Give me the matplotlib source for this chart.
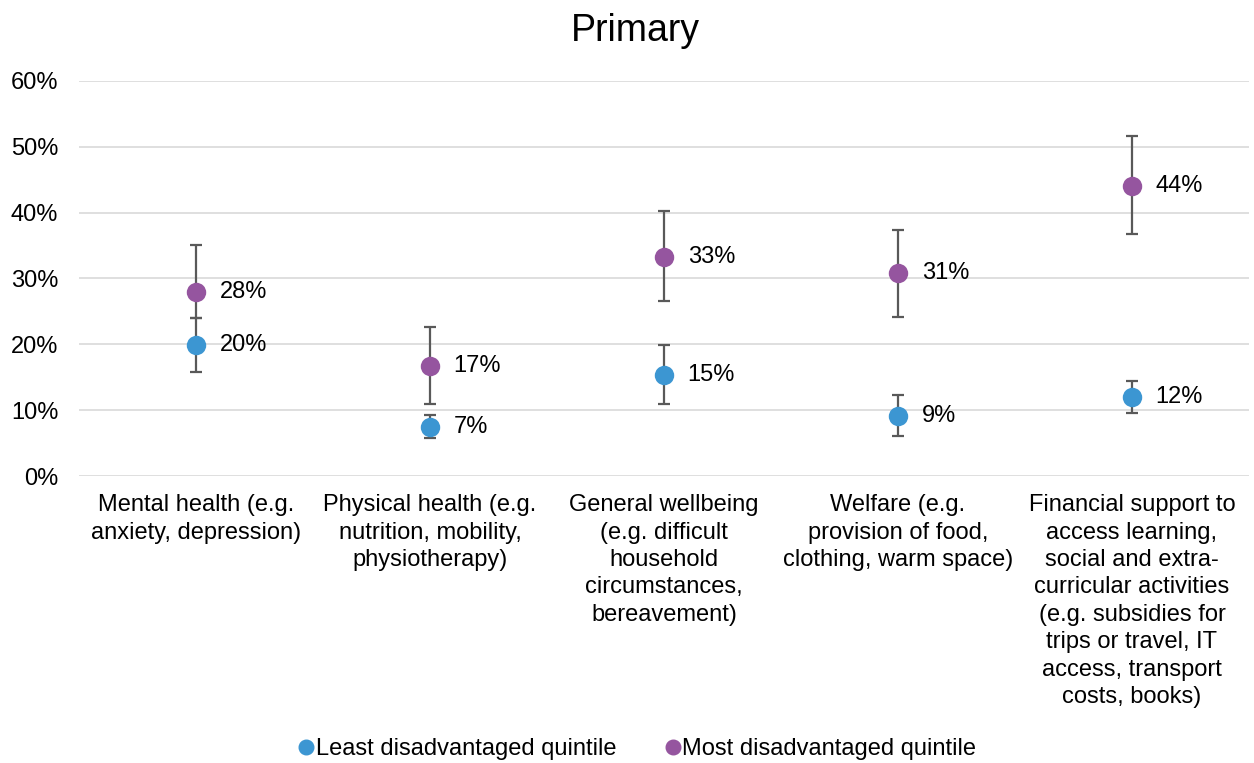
import numpy as np
import matplotlib.pyplot as plt

plt.rcParams["font.family"] = ["Liberation Sans", "DejaVu Sans"]

categories = [
    "Mental health (e.g.\nanxiety, depression)",
    "Physical health (e.g.\nnutrition, mobility,\nphysiotherapy)",
    "General wellbeing\n(e.g. difficult\nhousehold\ncircumstances,\nbereavement)",
    "Welfare (e.g.\nprovision of food,\nclothing, warm space)",
    "Financial support to\naccess learning,\nsocial and extra-\ncurricular activities\n(e.g. subsidies for\ntrips or travel, IT\naccess, transport\ncosts, books)",
]

least_vals = [19.9, 7.4, 15.3, 9.1, 12.0]
least_low = [15.8, 5.8, 10.9, 6.1, 9.6]
least_high = [24.0, 9.3, 19.9, 12.3, 14.4]
least_labels = ["20%", "7%", "15%", "9%", "12%"]

most_vals = [28.0, 16.7, 33.3, 30.8, 44.1]
most_low = [24.0, 10.9, 26.6, 24.1, 36.8]
most_high = [35.1, 22.6, 40.3, 37.4, 51.6]
most_labels = ["28%", "17%", "33%", "31%", "44%"]

yticks = [0, 10, 20, 30, 40, 50, 60]

blue = "#3C96D2"
purple = "#95559F"
errc = "#595959"

fig = plt.figure(figsize=(12.54, 7.63), dpi=100)
ax = fig.add_axes([0.063, 0.376, 0.933, 0.518])

x = np.arange(len(categories))

series = [
    ("Least disadvantaged quintile", least_vals, least_low, least_high, least_labels, blue),
    ("Most disadvantaged quintile", most_vals, most_low, most_high, most_labels, purple),
]

for name, vals, lo, hi, labels, col in series:
    vals = np.array(vals)
    err = [vals - np.array(lo), np.array(hi) - vals]
    ax.errorbar(x, vals, yerr=err, fmt="none", ecolor=errc, elinewidth=1.6,
                capsize=4.5, capthick=1.6, zorder=2)
    ax.plot(x, vals, "o", color=col, markersize=14, markeredgewidth=0,
            label=name, zorder=3)
    for xi, v, t in zip(x, vals, labels):
        ax.annotate(t, (xi, v), xytext=(17, 0), textcoords="offset points",
                    va="center", ha="left", fontsize=17)

ax.set_xlim(-0.5, len(categories) - 0.5)
ax.set_ylim(0, 60)
ax.set_yticks(yticks)
ax.set_yticklabels([f"{t}%" for t in yticks], fontsize=17)
ax.set_xticks(x)
ax.set_xticklabels(categories, fontsize=17, linespacing=1.32, va="top")
ax.tick_params(length=0)
ax.tick_params(axis="y", pad=15)
ax.tick_params(axis="x", pad=13)
ax.grid(axis="y", color="#D9D9D9", linewidth=1.2)
ax.set_axisbelow(True)
for s in ax.spines.values():
    s.set_visible(False)

fig.suptitle("Primary", fontsize=27, x=0.507, y=0.983, va="top")

handles, labels = ax.get_legend_handles_labels()
handles = [plt.Line2D([], [], marker="o", linestyle="none", color=h.get_color(),
                      markersize=10.5) for h in handles]
fig.legend(handles, labels, loc="lower center", bbox_to_anchor=(0.502, -0.024),
           ncol=2, frameon=False, fontsize=17, handletextpad=-0.6,
           columnspacing=1.4)

fig.savefig("out.png", dpi=100)
